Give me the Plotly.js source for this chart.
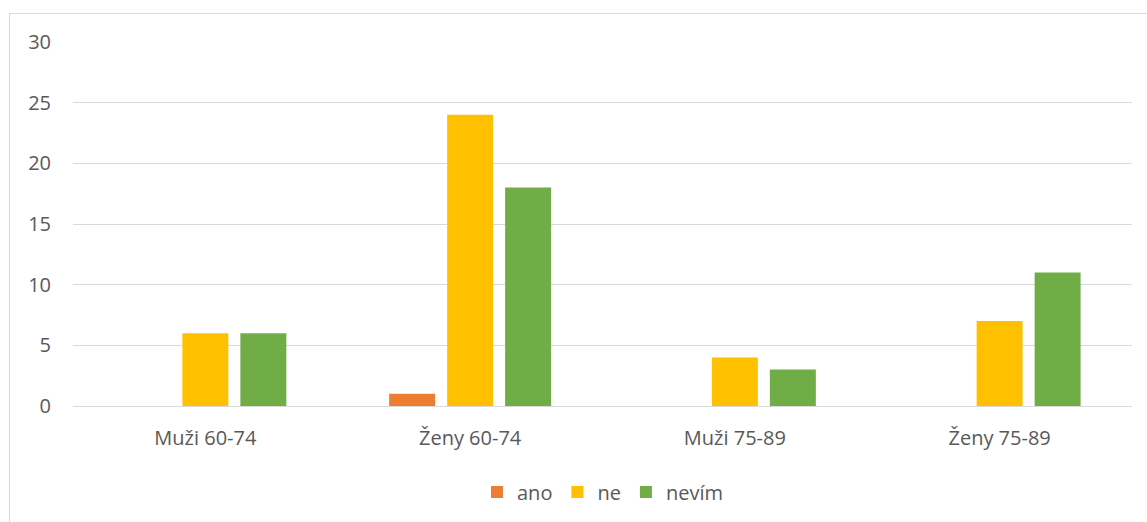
<!DOCTYPE html>
<html>
<head>
<meta charset="utf-8">
<script src="https://cdn.plot.ly/plotly-3.0.1.min.js"></script>
<style>
html,body{margin:0;padding:0;background:#fff;}
#frame{position:absolute;left:9px;top:13px;width:1150px;height:520px;border:1px solid #d9d9d9;box-sizing:border-box;}
#chart{position:absolute;left:0;top:0;width:1147px;height:522px;}
</style>
</head>
<body>
<div id="frame"></div>
<div id="chart"></div>
<script>
const categories = ["Muži 60-74", "Ženy 60-74", "Muži 75-89", "Ženy 75-89"];
const seriesNames = ["ano", "ne", "nevím"];
const ano = [0, 1, 0, 0];
const ne = [6, 24, 4, 7];
const nevim = [6, 18, 3, 11];
const colors = ["#ED7D31", "#FFC000", "#70AD47"];
const yTicks = [0, 5, 10, 15, 20, 25, 30];

const values = [ano, ne, nevim];
const data = seriesNames.map((n, i) => ({
  type: "bar", name: n, x: categories, y: values[i],
  marker: {color: colors[i]}, hoverinfo: "none"
}));

const layout = {
  width: 1147, height: 522,
  paper_bgcolor: "rgba(0,0,0,0)", plot_bgcolor: "rgba(0,0,0,0)",
  margin: {l: 73, r: 15, t: 42, b: 115},
  font: {family: "Open Sans, Noto Sans, sans-serif", size: 20, color: "#595959"},
  barmode: "group", bargap: 0.343, bargroupgap: 0.207,
  showlegend: true,
  legend: {orientation: "h", x: 0.5, xanchor: "center", y: -0.233, yanchor: "middle",
           font: {size: 20, color: "#595959"}, itemwidth: 30, traceorder: "normal"},
  xaxis: {type: "category", showgrid: false, zeroline: false, showline: false,
          ticks: "outside", ticklen: 14, tickcolor: "rgba(0,0,0,0)",
          tickfont: {size: 20, color: "#595959"}},
  yaxis: {range: [0, 30], tickvals: yTicks, showgrid: true, gridcolor: "#d9d9d9", gridwidth: 1,
          zeroline: true, zerolinecolor: "#d9d9d9", zerolinewidth: 1, showline: false,
          ticks: "outside", ticklen: 17, tickcolor: "rgba(0,0,0,0)",
          tickfont: {size: 20, color: "#595959"}, fixedrange: true}
};
Plotly.newPlot("chart", data, layout, {staticPlot: true, displayModeBar: false});
</script>
</body>
</html>
